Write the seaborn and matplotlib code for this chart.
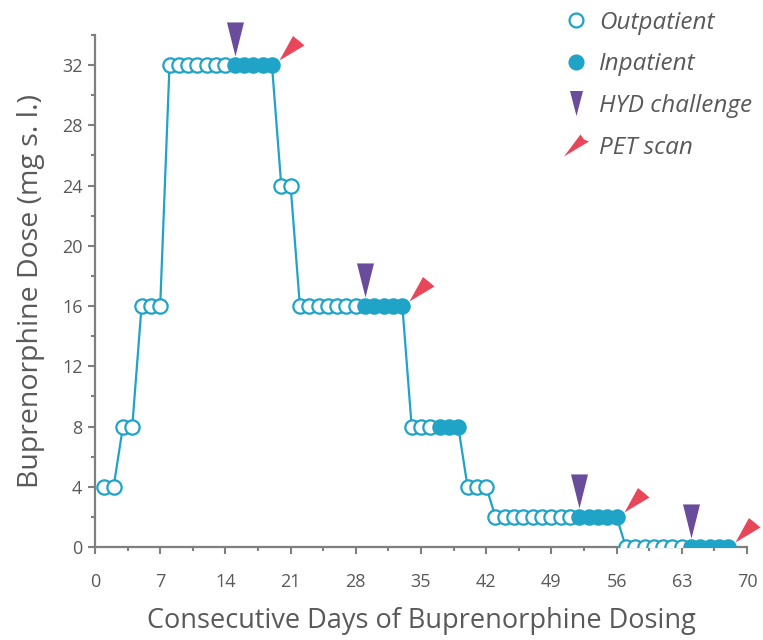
import numpy as np
import pandas as pd
import matplotlib.pyplot as plt
from matplotlib.path import Path
from matplotlib.lines import Line2D
from matplotlib.ticker import MultipleLocator
import seaborn as sns

# dose per consecutive day (days 1..68)
days = list(range(1, 69))
dose = [4, 4,
        8, 8,
        16, 16, 16,
        32, 32, 32, 32, 32, 32, 32, 32, 32, 32, 32, 32,
        24, 24,
        16, 16, 16, 16, 16, 16, 16, 16, 16, 16, 16, 16,
        8, 8, 8, 8, 8, 8,
        4, 4, 4,
        2, 2, 2, 2, 2, 2, 2, 2, 2, 2, 2, 2, 2, 2,
        0, 0, 0, 0, 0, 0, 0, 0, 0, 0, 0, 0]
inpatient_days = [15, 16, 17, 18, 19, 29, 30, 31, 32, 33, 37, 38, 39,
                  52, 53, 54, 55, 56, 64, 65, 66, 67, 68]
hyd_days = [15, 29, 52, 64]
pet_days = [19, 33, 56, 68]

df = pd.DataFrame({"day": days, "dose": dose})
df["setting"] = np.where(df["day"].isin(inpatient_days), "Inpatient", "Outpatient")

BLUE = "#1fa3c6"
PURPLE = "#6a4c9c"
RED = "#e8475a"
GREY = "#595959"
AX = "#7f7f7f"

sns.set_style("ticks")
plt.rcParams["font.family"] = ["Open Sans", "DejaVu Sans"]

# marker shapes offset above the point (pixel-ish units, y up)
hyd_path = Path([(0, 9), (-8.5, 43), (8.5, 43), (0, 9)],
                [Path.MOVETO, Path.LINETO, Path.LINETO, Path.CLOSEPOLY])
pet_path = Path([(7, 5), (20.5, 29.5), (26.5, 24.8), (32, 20), (7, 5)],
                [Path.MOVETO, Path.LINETO, Path.LINETO, Path.LINETO, Path.CLOSEPOLY])
hyd_leg = Path([(0, -12.5), (-6.5, 12.5), (6.5, 12.5), (0, -12.5)],
               [Path.MOVETO, Path.LINETO, Path.LINETO, Path.CLOSEPOLY])
pet_leg = Path([(-12.5, -11), (4, 11), (7.5, 6), (12.5, 4), (-12.5, -11)],
               [Path.MOVETO, Path.LINETO, Path.LINETO, Path.LINETO, Path.CLOSEPOLY])

fig = plt.figure(figsize=(7.63, 6.4), dpi=100)
ax = fig.add_axes([0.1245, 0.1453, 0.8545, 0.80])

sns.lineplot(data=df, x="day", y="dose", color=BLUE, linewidth=1.6, ax=ax, zorder=2)
for _, r in df.iterrows():
    face = BLUE if r["setting"] == "Inpatient" else "white"
    ax.plot(r["day"], r["dose"], marker="o", ms=10.3, mfc=face, mec=BLUE,
            mew=1.6, ls="none", zorder=3)

hyd = df[df["day"].isin(hyd_days)]
pet = df[df["day"].isin(pet_days)]
ax.plot(hyd["day"], hyd["dose"], ls="none", marker=hyd_path, ms=62,
        mfc=PURPLE, mec="none", zorder=4, clip_on=False)
ax.plot(pet["day"], pet["dose"], ls="none", marker=pet_path, ms=46,
        mfc=RED, mec="none", zorder=4, clip_on=False)

ax.set_xlim(0, 70)
ax.set_ylim(0, 34)
ax.xaxis.set_major_locator(MultipleLocator(7))
ax.xaxis.set_minor_locator(MultipleLocator(3.5))
ax.yaxis.set_major_locator(MultipleLocator(4))
ax.yaxis.set_minor_locator(MultipleLocator(2))
ax.tick_params(which="major", length=5, width=1.5, color=AX, labelsize=13,
               labelcolor=GREY)
ax.tick_params(which="minor", length=3, width=1.5, color=AX)
ax.tick_params(axis="x", which="major", pad=14)
ax.tick_params(axis="y", which="major", pad=4)
for s in ["top", "right"]:
    ax.spines[s].set_visible(False)
for s in ["left", "bottom"]:
    ax.spines[s].set_color(AX)
    ax.spines[s].set_linewidth(1.6)

ax.set_xlabel("Consecutive Days of Buprenorphine Dosing", fontsize=19.5,
              color=GREY, labelpad=11)
ax.set_ylabel("Buprenorphine Dose (mg s. l.)", fontsize=20.5, color=GREY,
              labelpad=12)

handles = [
    Line2D([], [], ls="none", marker="o", ms=10, mfc="white", mec=BLUE, mew=1.6),
    Line2D([], [], ls="none", marker="o", ms=10, mfc=BLUE, mec=BLUE, mew=1.6),
    Line2D([], [], ls="none", marker=hyd_leg, ms=18, mfc=PURPLE, mec="none"),
    Line2D([], [], ls="none", marker=pet_leg, ms=18, mfc=RED, mec="none"),
]
labels = ["Outpatient", "Inpatient", "HYD challenge", "PET scan"]
leg = fig.legend(handles, labels, loc="upper left",
                 bbox_to_anchor=(564 / 763, 1 - 11 / 640), frameon=False,
                 handlelength=1.0, handletextpad=0.45, labelspacing=0.72,
                 borderpad=0, borderaxespad=0,
                 prop={"family": "Open Sans", "style": "italic", "size": 17.5})
for t in leg.get_texts():
    t.set_color(GREY)

fig.savefig("out.png", dpi=100)
